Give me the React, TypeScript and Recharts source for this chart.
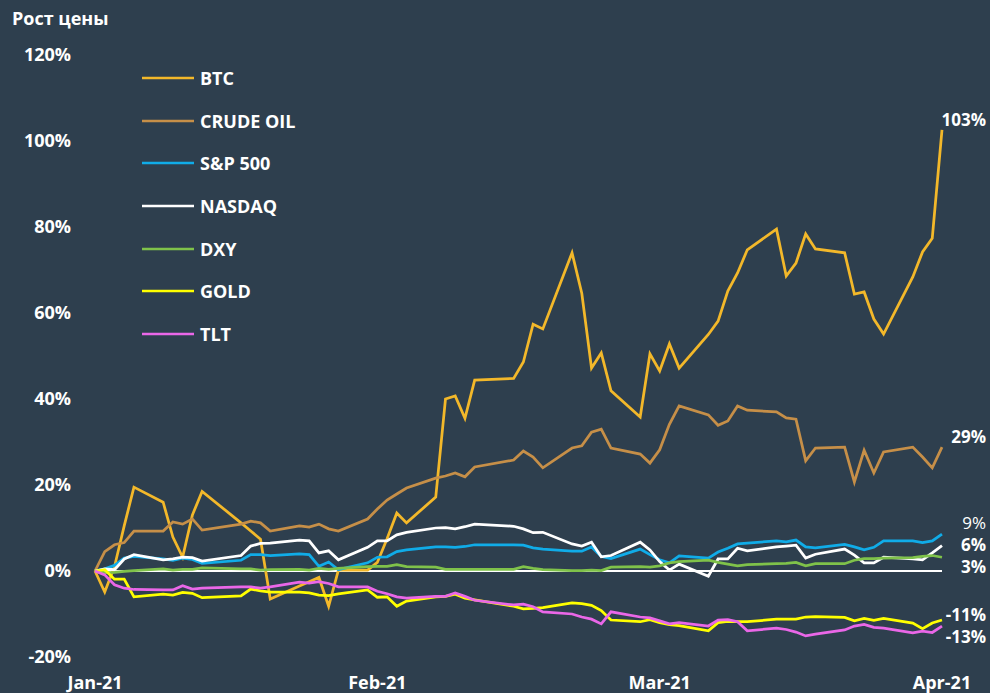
import { Legend, Line, LineChart, ReferenceLine, XAxis, YAxis } from "recharts";

// trading days, 2021
const DATES = [
  "2021-01-04", "2021-01-05", "2021-01-06", "2021-01-07", "2021-01-08",
  "2021-01-11", "2021-01-12", "2021-01-13", "2021-01-14", "2021-01-15",
  "2021-01-19", "2021-01-20", "2021-01-21", "2021-01-22",
  "2021-01-25", "2021-01-26", "2021-01-27", "2021-01-28", "2021-01-29",
  "2021-02-01", "2021-02-02", "2021-02-03", "2021-02-04", "2021-02-05",
  "2021-02-08", "2021-02-09", "2021-02-10", "2021-02-11", "2021-02-12",
  "2021-02-16", "2021-02-17", "2021-02-18", "2021-02-19",
  "2021-02-22", "2021-02-23", "2021-02-24", "2021-02-25", "2021-02-26",
  "2021-03-01", "2021-03-02", "2021-03-03", "2021-03-04", "2021-03-05",
  "2021-03-08", "2021-03-09", "2021-03-10", "2021-03-11", "2021-03-12",
  "2021-03-15", "2021-03-16", "2021-03-17", "2021-03-18", "2021-03-19",
  "2021-03-22", "2021-03-23", "2021-03-24", "2021-03-25", "2021-03-26",
  "2021-03-29", "2021-03-30", "2021-03-31",
  "2021-04-01",
];

const TICK_DATES = ["2021-01-04", "2021-02-02", "2021-03-03", "2021-04-01"];
const Y_TICKS = [-20, 0, 20, 40, 60, 80, 100, 120];
const MONTHS = ["Jan", "Feb", "Mar", "Apr", "May", "Jun", "Jul", "Aug", "Sep", "Oct", "Nov", "Dec"];

// price growth, % from 4 Jan
const BTC = [
  0, -4.9, 1.0, 10.5, 19.5,
  16.0, 7.9, 3.2, 13.0, 18.5,
  11.2, 9.3, 7.4, -6.5,
  -3.5, -2.5, -1.5, -8.2, 0.2,
  0.2, 2.0, 7.5, 13.5, 11.2,
  17.2, 40.0, 40.7, 35.5, 44.4,
  44.8, 48.6, 57.4, 56.3,
  74.0, 64.6, 47.2, 50.7, 41.9,
  35.8, 50.5, 46.5, 52.8, 47.2,
  55.0, 58.1, 65.1, 69.3, 74.7,
  79.5, 68.6, 71.6, 78.4, 74.9,
  74.0, 64.4, 64.9, 58.6, 55.1,
  68.4, 74.2, 77.4,
  102.6,
];
const CRUDE_OIL = [
  0, 4.5, 6.1, 6.6, 9.3,
  9.3, 11.4, 10.9, 12.1, 9.5,
  10.9, 11.6, 11.2, 9.3,
  10.5, 10.2, 10.9, 9.8, 9.3,
  12.1, 14.4, 16.5, 17.9, 19.3,
  21.6, 22.1, 22.8, 21.9, 24.2,
  25.8, 27.9, 26.5, 24.0,
  28.6, 29.1, 32.3, 33.0, 28.6,
  27.2, 25.1, 28.2, 34.1, 38.4,
  36.3, 33.9, 34.9, 38.4, 37.4,
  37.0, 35.6, 35.3, 25.6, 28.6,
  28.8, 20.7, 28.1, 22.8, 27.7,
  28.8, 26.5, 24.0,
  28.8,
];
const SP500 = [
  0, 0.5, 1.3, 3.0, 3.4,
  2.8, 2.5, 3.0, 2.7, 1.8,
  2.5, 3.8, 3.8, 3.6,
  4.0, 3.8, 1.1, 2.1, 0.3,
  1.9, 3.2, 3.3, 4.5, 4.9,
  5.6, 5.6, 5.5, 5.7, 6.1,
  6.1, 6.0, 5.4, 5.1,
  4.6, 4.6, 5.6, 3.4, 2.9,
  5.1, 3.8, 2.6, 1.9, 3.5,
  3.0, 4.4, 5.3, 6.3, 6.5,
  7.0, 6.8, 7.2, 5.6, 5.4,
  6.2, 5.6, 4.9, 5.5, 7.0,
  7.0, 6.6, 7.0,
  8.6,
];
const NASDAQ = [
  0, 0.5, 0.3, 2.8, 3.8,
  2.6, 2.8, 3.2, 3.1, 2.3,
  3.6, 5.8, 6.4, 6.5,
  7.2, 7.0, 4.2, 4.7, 2.6,
  5.5, 7.0, 7.0, 8.4, 9.0,
  10.0, 10.1, 9.8, 10.3, 10.9,
  10.4, 9.8, 8.9, 9.0,
  6.3, 5.8, 6.7, 3.3, 3.6,
  6.7, 4.9, 2.2, 0.2, 1.6,
  -1.2, 2.8, 2.8, 5.3, 4.7,
  5.6, 5.8, 6.0, 3.0, 3.9,
  5.1, 3.7, 1.9, 1.9, 3.2,
  2.8, 2.6, 4.2,
  5.9,
];
const DXY = [
  0, -0.4, -0.3, -0.1, 0.1,
  0.5, 0.2, 0.4, 0.4, 0.7,
  0.5, 0.5, 0.2, 0.3,
  0.4, 0.2, 0.6, 0.4, 0.6,
  1.0, 1.1, 1.1, 1.5, 1.0,
  0.9, 0.4, 0.4, 0.4, 0.4,
  0.4, 1.0, 0.6, 0.3,
  0.1, 0.1, 0.2, 0.1, 0.9,
  1.0, 0.9, 1.2, 1.9, 2.2,
  2.5, 2.0, 1.6, 1.2, 1.5,
  1.7, 1.8, 2.0, 1.2, 1.7,
  1.7, 2.5, 2.9, 2.9, 3.0,
  3.1, 3.4, 3.6,
  3.2,
];
const GOLD = [
  0, 0.3, -1.9, -1.9, -6.0,
  -5.4, -5.6, -5.0, -5.2, -6.2,
  -5.8, -4.2, -4.6, -4.9,
  -4.9, -5.1, -5.6, -5.7, -5.3,
  -4.4, -6.1, -6.0, -8.2, -7.0,
  -6.0, -5.9, -5.4, -6.3, -6.7,
  -8.2, -8.8, -8.7, -8.5,
  -7.4, -7.6, -8.0, -9.2, -11.4,
  -11.8, -11.3, -12.0, -12.5, -12.7,
  -13.9, -12.0, -11.7, -11.8, -11.8,
  -11.2, -11.2, -11.2, -10.7, -10.6,
  -10.8, -11.6, -11.0, -11.5, -11.0,
  -12.1, -13.4, -12.1,
  -11.4,
];
const TLT = [
  0, -0.9, -3.2, -4.0, -4.3,
  -4.4, -4.4, -3.4, -4.2, -4.0,
  -3.7, -3.7, -4.0, -3.7,
  -2.6, -2.8, -2.5, -2.9, -3.7,
  -3.7, -4.7, -5.3, -6.0, -6.3,
  -5.9, -5.9, -5.1, -5.9, -6.8,
  -7.9, -7.7, -8.3, -9.5,
  -10.0, -10.7, -11.2, -12.3, -9.5,
  -10.7, -10.9, -11.6, -12.3, -12.0,
  -12.8, -11.4, -11.3, -11.8, -13.9,
  -13.3, -13.6, -14.2, -15.1, -14.7,
  -13.7, -12.8, -12.4, -13.1, -13.3,
  -14.4, -14.0, -14.3,
  -12.8,
];

const BG = "#2E3F4E";
const FONT = "'Open Sans', 'Noto Sans', sans-serif";
const DAY_MS = 86400000;
const START = Date.parse(DATES[0]);

const toDay = (d: string) => (Date.parse(d) - START) / DAY_MS;

const formatMonth = (day: number): string => {
  const dt = new Date(START + day * DAY_MS);
  return `${MONTHS[dt.getUTCMonth()]}-${String(dt.getUTCFullYear()).slice(2)}`;
};

// color, label offset (px from last point), label weight
const SERIES = [
  { key: "btc", name: "BTC", values: BTC, color: "#F3B82A", dy: -10, weight: 700 },
  { key: "oil", name: "CRUDE OIL", values: CRUDE_OIL, color: "#C68F48", dy: -10, weight: 700 },
  { key: "sp", name: "S&P 500", values: SP500, color: "#10ACE8", dy: -11, weight: 400 },
  { key: "nasdaq", name: "NASDAQ", values: NASDAQ, color: "#FFFFFF", dy: -1, weight: 700 },
  { key: "dxy", name: "DXY", values: DXY, color: "#7FC24A", dy: 10, weight: 700 },
  { key: "gold", name: "GOLD", values: GOLD, color: "#FFFF00", dy: -5, weight: 700 },
  { key: "tlt", name: "TLT", values: TLT, color: "#EA67E8", dy: 11, weight: 700 },
];

const chartData = DATES.map((d, i) => {
  const row: Record<string, number> = { day: toDay(d) };
  SERIES.forEach((s) => {
    row[s.key] = s.values[i];
  });
  return row;
});

const endLabel = (dy: number, weight: number) => (props: any) => {
  if (props.index !== DATES.length - 1) return <g />;
  const x = props.x ?? props.viewBox?.x;
  const y = props.y ?? props.viewBox?.y;
  return (
    <text
      x={x + 44}
      y={y + dy}
      dy="0.36em"
      textAnchor="end"
      fill="#FFFFFF"
      fontSize={17}
      fontWeight={weight}
      fontFamily={FONT}
    >
      {`${Math.round(Number(props.value))}%`}
    </text>
  );
};

// keep legend in series order (recharts sorts by name otherwise)
const renderLegend = () => (
  <div>
    {SERIES.map((s) => (
      <div key={s.key} style={{ display: "flex", alignItems: "center", height: 42.6 }}>
        <svg width={52} height={4} style={{ display: "block" }}>
          <line x1={0} x2={52} y1={2} y2={2} stroke={s.color} strokeWidth={2.5} />
        </svg>
        <span style={{ marginLeft: 6, color: "#FFFFFF", fontFamily: FONT, fontWeight: 700, fontSize: 18 }}>
          {s.name}
        </span>
      </div>
    ))}
  </div>
);

const tickStyle = { fill: "#FFFFFF", fontSize: 18, fontWeight: 700, fontFamily: FONT };

const App = () => (
  <div style={{ position: "absolute", left: 0, top: 0, width: 990, height: 693, background: BG, overflow: "hidden" }}>
    <div
      style={{
        position: "absolute",
        left: 12,
        top: 6,
        color: "#FFFFFF",
        fontFamily: FONT,
        fontWeight: 700,
        fontSize: 18,
        lineHeight: "24px",
      }}
    >
      Рост цены
    </div>
    <LineChart width={990} height={693} data={chartData} margin={{ top: 55, right: 48, left: 0, bottom: 0 }}>
      <XAxis
        dataKey="day"
        type="number"
        domain={["dataMin", "dataMax"]}
        ticks={TICK_DATES.map(toDay)}
        tickFormatter={formatMonth}
        interval={0}
        axisLine={false}
        tickLine={false}
        tickSize={0}
        tickMargin={19}
        height={36}
        tick={tickStyle}
      />
      <YAxis
        type="number"
        domain={[-20, 120]}
        ticks={Y_TICKS}
        tickFormatter={(v: number) => `${v}%`}
        interval={0}
        width={95}
        axisLine={false}
        tickLine={false}
        tickSize={0}
        tickMargin={24}
        tick={tickStyle}
      />
      <ReferenceLine y={0} stroke="#FFFFFF" strokeWidth={2} />
      <Legend
        content={renderLegend}
        layout="horizontal"
        verticalAlign="middle"
        align="center"
        wrapperStyle={{ left: 142, top: 57, width: 240, height: 300 }}
      />
      {SERIES.map((s) => (
        <Line
          key={s.key}
          type="linear"
          dataKey={s.key}
          name={s.name}
          stroke={s.color}
          strokeWidth={2.75}
          dot={false}
          activeDot={false}
          isAnimationActive={false}
          label={endLabel(s.dy, s.weight)}
        />
      ))}
    </LineChart>
  </div>
);

export default App;
